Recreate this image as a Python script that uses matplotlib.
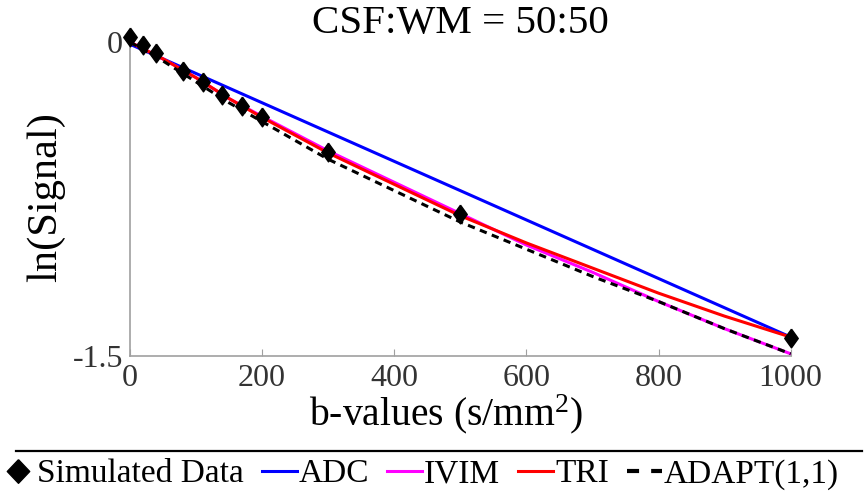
import numpy as np
import matplotlib.pyplot as plt
from matplotlib.lines import Line2D

plt.rcParams['font.family'] = ['Liberation Serif', 'DejaVu Serif']
plt.rcParams['mathtext.fontset'] = 'custom'
plt.rcParams['mathtext.rm'] = 'Liberation Serif'
plt.rcParams['mathtext.it'] = 'Liberation Serif:italic'

# Simulated data
b_data = [0, 20, 40, 80, 110, 140, 170, 200, 300, 500, 1000]
s_data = [0.024, -0.014, -0.053, -0.139, -0.19, -0.253, -0.306, -0.358, -0.526, -0.822, -1.414]

# Fitted curves
b_fit = [0, 50, 100, 150, 200, 300, 400, 500, 600, 700, 800, 900, 1000]
adc = [-0.01, -0.08, -0.15, -0.22, -0.29, -0.43, -0.57, -0.71, -0.85, -0.99, -1.13, -1.27, -1.41]
ivim = [0.0, -0.08, -0.17, -0.27, -0.355, -0.52, -0.67, -0.82, -0.97, -1.10, -1.24, -1.37, -1.49]
tri = [0.0, -0.08, -0.17, -0.27, -0.36, -0.53, -0.68, -0.83, -0.96, -1.08, -1.20, -1.31, -1.41]
adapt = [0.0, -0.09, -0.19, -0.29, -0.38, -0.56, -0.71, -0.86, -0.99, -1.12, -1.24, -1.37, -1.49]

tall_diamond = [(0, 1), (0.72, 0), (0, -1), (-0.72, 0), (0, 1)]
wide_diamond = [(0, 1), (0.95, 0), (0, -1), (-0.95, 0), (0, 1)]

fig = plt.figure(figsize=(8.66, 4.95), dpi=100)
ax = fig.add_axes([0.150, 0.281, 0.763, 0.634])

l_adc, = ax.plot(b_fit, adc, color='#0000ff', lw=2.2)
l_ivim, = ax.plot(b_fit, ivim, color='#ff00ff', lw=2.2)
l_tri, = ax.plot(b_fit, tri, color='#ff0000', lw=2.2)
ax.plot(b_fit, adapt, color='black', lw=2.2, ls=(0, (2.4, 1.8)))
ax.plot(b_data, s_data, ls='none', marker=tall_diamond, color='black', ms=13.5, clip_on=False, zorder=5)

ax.set_xlim(0, 1000)
ax.set_ylim(-1.5, 0)
ax.set_xticks([0, 200, 400, 600, 800, 1000])
ax.set_yticks([0, -1.5])
ax.set_yticklabels(['0', '-1.5'])
for s in ['top', 'right']:
    ax.spines[s].set_visible(False)
for s in ['left', 'bottom']:
    ax.spines[s].set_color('#a0a0a0')
    ax.spines[s].set_linewidth(1.2)
ax.tick_params(axis='x', direction='in', length=5, color='#a0a0a0', labelsize=23, labelcolor='#333333', pad=6)
ax.tick_params(axis='y', length=0, labelsize=23, labelcolor='#333333', pad=5)

ax.set_title('CSF:WM = 50:50', fontsize=29.5, pad=3)
ax.set_xlabel('b-values (s/mm$^2$)', fontsize=28.5)
ax.xaxis.set_label_coords(0.478, -0.115)
ax.set_ylabel('ln(Signal)', fontsize=30.5)
ax.yaxis.set_label_coords(-0.098, 0.506)

# separator line above legend
fig.add_artist(Line2D([16 / 866, 862 / 866], [1 - 451 / 495, 1 - 451 / 495],
                      transform=fig.transFigure, color='black', lw=1.6))

h_data = Line2D([], [], ls='none', marker=wide_diamond, color='black', ms=17)
h_adapt = Line2D([], [], color='black', lw=3, ls=(0, (2.9, 2.9)))
fig.legend([h_data, l_adc, l_ivim, l_tri, h_adapt],
           ['Simulated Data', 'ADC', 'IVIM', 'TRI', 'ADAPT(1,1)'],
           loc='center left', bbox_to_anchor=(0.0, 0.042), ncol=5, frameon=False,
           fontsize=24, handlelength=1.05, handletextpad=0.05, columnspacing=0.55,
           borderpad=0, borderaxespad=0)

fig.savefig('out.png', dpi=100)
